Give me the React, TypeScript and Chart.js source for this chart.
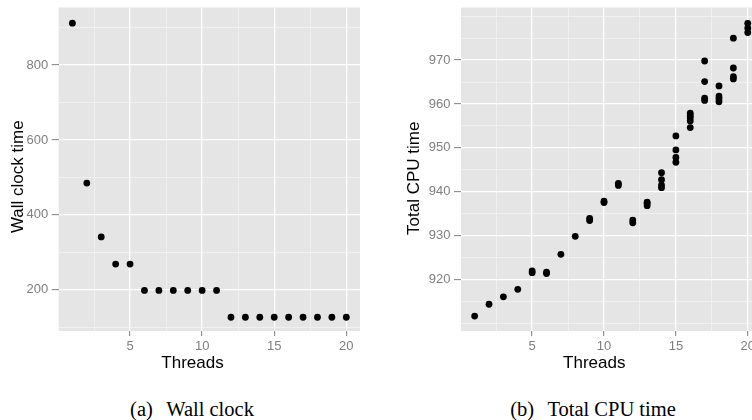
import React, { useEffect, useRef } from "react";
import { Chart, registerables } from "chart.js";

Chart.register(...registerables);

// ---------- data ----------
const wallThreads = [1, 2, 3, 4, 5, 6, 7, 8, 9, 10, 11, 12, 13, 14, 15, 16, 17, 18, 19, 20];
const wallTimes = [912, 485, 341, 268.5, 268.5, 198, 198, 198, 198, 198, 198, 126.4, 126.4, 126.4, 126.4, 126.4, 126.4, 126.4, 126.4, 126.4];

const cpuThreads = [
  1, 2, 3, 4, 5, 5, 6, 6, 7, 8, 9, 9, 10, 10, 11, 11, 12, 12, 13, 13, 13,
  14, 14, 14, 14, 15, 15, 15, 15, 16, 16, 16, 16, 16, 17, 17, 17, 17,
  18, 18, 18, 18, 19, 19, 19, 19, 20, 20, 20,
];
const cpuTimes = [
  911.6, 914.3, 916.0, 917.7, 921.5, 921.9, 921.3, 921.6, 925.7, 929.8, 933.4, 933.9, 937.5, 937.8, 941.4, 941.9, 932.9, 933.5, 936.8, 937.3, 937.6,
  940.9, 941.5, 942.7, 944.3, 946.7, 947.8, 949.5, 952.7, 954.6, 956.1, 956.8, 957.3, 957.9, 960.8, 961.3, 965.1, 969.8,
  960.5, 961.2, 961.8, 964.1, 965.7, 966.2, 968.2, 975.0, 976.3, 977.3, 978.4,
];

const xMajorTicks = [5, 10, 15, 20];
const xMinorTicks = [2.5, 7.5, 12.5, 17.5];
const wallMajorTicks = [200, 400, 600, 800];
const wallMinorTicks = [100, 300, 500, 700, 900];
const cpuMajorTicks = [920, 930, 940, 950, 960, 970];
const cpuMinorTicks = [910, 915, 925, 935, 945, 955, 965, 975, 980];

const xAxisTitle = "Threads";
const wallAxisTitle = "Wall clock time";
const cpuAxisTitle = "Total CPU time";
const captionA = "(a)";
const captionAText = "Wall clock";
const captionB = "(b)";
const captionBText = "Total CPU time";

// ---------- styling ----------
const PANEL_BG = "#E5E5E5";
const GRID_MAJOR = "#FFFFFF";
const GRID_MINOR = "#F2F2F2";
const TICK_GREY = "#7F7F7F";
const SANS = "'Liberation Sans', Arial, sans-serif";

const panelBgPlugin = {
  id: "panelBg",
  beforeDraw(chart: any) {
    const { ctx, chartArea } = chart;
    if (!chartArea) return;
    ctx.save();
    ctx.fillStyle = PANEL_BG;
    ctx.fillRect(chartArea.left, chartArea.top, chartArea.right - chartArea.left, chartArea.bottom - chartArea.top);
    ctx.restore();
  },
};

const axisTitlesPlugin = {
  id: "axisTitles",
  afterDraw(chart: any, _args: any, opts: any) {
    const ctx = chart.ctx;
    ctx.save();
    ctx.fillStyle = "#000000";
    ctx.font = `17px ${SANS}`;
    ctx.textAlign = "center";
    ctx.textBaseline = "alphabetic";
    ctx.fillText(opts.xText, opts.xX, opts.xY);
    ctx.translate(opts.yX, opts.yY);
    ctx.rotate(-Math.PI / 2);
    ctx.fillText(opts.yText, 0, 0);
    ctx.restore();
  },
};

function makeScale(
  min: number,
  max: number,
  major: number[],
  minor: number[],
  tickLength: number,
  padding: number,
  fit: (s: any) => void
) {
  const isMajor = (v: number) => major.includes(v);
  return {
    type: "linear",
    min,
    max,
    afterBuildTicks: (scale: any) => {
      scale.ticks = [...major, ...minor].sort((a, b) => a - b).map((v) => ({ value: v }));
    },
    afterFit: fit,
    border: { display: false },
    grid: {
      color: (c: any) => (c.tick && isMajor(c.tick.value) ? GRID_MAJOR : GRID_MINOR),
      lineWidth: (c: any) => (c.tick && isMajor(c.tick.value) ? 1.3 : 0.8),
      tickColor: (c: any) => (c.tick && isMajor(c.tick.value) ? TICK_GREY : "rgba(0,0,0,0)"),
      tickWidth: 1,
      tickLength,
      drawTicks: true,
    },
    ticks: {
      autoSkip: false,
      maxRotation: 0,
      minRotation: 0,
      padding,
      color: TICK_GREY,
      font: { family: SANS, size: 13 },
      callback: (v: any) => (isMajor(Number(v)) ? String(v) : ""),
    },
    title: { display: false },
  };
}

function buildConfig(
  xs: number[],
  ys: number[],
  yMin: number,
  yMax: number,
  yMajor: number[],
  yMinor: number[],
  yAxisWidth: number,
  rightPad: number,
  titles: any
) {
  const points = xs.map((x, i) => ({ x, y: ys[i] }));
  return {
    type: "scatter",
    data: {
      datasets: [
        {
          data: points,
          backgroundColor: "#000000",
          borderWidth: 0,
          pointRadius: 3.4,
          pointHoverRadius: 3.4,
        },
      ],
    },
    options: {
      responsive: false,
      animation: false,
      events: [],
      layout: { padding: { left: 0, top: 7.5, right: rightPad, bottom: 0 } },
      plugins: {
        legend: { display: false },
        tooltip: { enabled: false },
        axisTitles: titles,
      },
      scales: {
        x: makeScale(0.05, 20.95, xMajorTicks, xMinorTicks, 5, 3, (s: any) => {
          s.height = 49;
          s.paddingLeft = 0;
          s.paddingRight = 0;
        }),
        y: makeScale(yMin, yMax, yMajor, yMinor, 7, 3.5, (s: any) => {
          s.width = yAxisWidth;
          s.paddingTop = 0;
          s.paddingBottom = 0;
        }),
      },
    },
    plugins: [panelBgPlugin, axisTitlesPlugin],
  };
}

export default function App() {
  const leftRef = useRef<HTMLCanvasElement | null>(null);
  const rightRef = useRef<HTMLCanvasElement | null>(null);

  useEffect(() => {
    const left = new Chart(
      leftRef.current as HTMLCanvasElement,
      buildConfig(wallThreads, wallTimes, 89.7, 954, wallMajorTicks, wallMinorTicks, 58.7, 16, {
        xText: xAxisTitle,
        xX: 192.5,
        xY: 368.3,
        yText: wallAxisTitle,
        yX: 23.3,
        yY: 176.7,
      }) as any
    );
    const right = new Chart(
      rightRef.current as HTMLCanvasElement,
      buildConfig(cpuThreads, cpuTimes, 908.2, 982, cpuMajorTicks, cpuMinorTicks, 85, 14.6, {
        xText: xAxisTitle,
        xX: 218.3,
        xY: 368.3,
        yText: cpuAxisTitle,
        yX: 43.3,
        yY: 178.3,
      }) as any
    );
    return () => {
      left.destroy();
      right.destroy();
    };
  }, []);

  const captionStyle: React.CSSProperties = {
    position: "absolute",
    top: 398.5,
    width: 260,
    textAlign: "center",
    fontFamily: "'Liberation Serif', 'Times New Roman', serif",
    fontSize: 20.5,
    lineHeight: "20.5px",
    color: "#000",
    whiteSpace: "nowrap",
  };

  return (
    <div
      style={{
        position: "fixed",
        left: 0,
        top: 0,
        width: 752,
        height: 420,
        overflow: "hidden",
        background: "#FFFFFF",
      }}
    >
      <canvas
        ref={leftRef}
        width={376}
        height={380}
        style={{ position: "absolute", left: 0, top: 0, width: 376, height: 380 }}
      />
      <canvas
        ref={rightRef}
        width={400}
        height={380}
        style={{ position: "absolute", left: 376, top: 0, width: 400, height: 380 }}
      />
      <div style={{ ...captionStyle, left: 192 - 130 }}>
        {captionA}
        <span style={{ display: "inline-block", width: "0.65em" }} />
        {captionAText}
      </div>
      <div style={{ ...captionStyle, left: 593 - 130 }}>
        {captionB}
        <span style={{ display: "inline-block", width: "0.65em" }} />
        {captionBText}
      </div>
    </div>
  );
}
